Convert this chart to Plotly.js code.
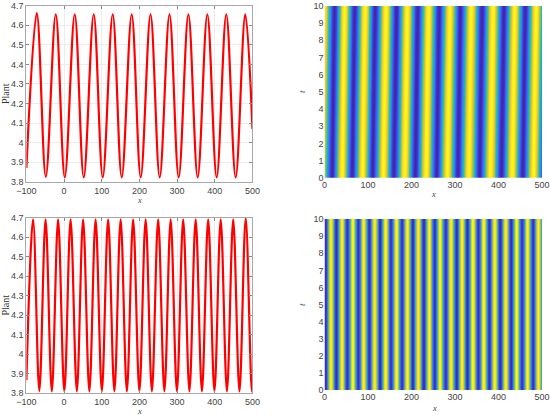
<!DOCTYPE html>
<html><head><meta charset="utf-8">
<script src="https://cdn.plot.ly/plotly-3.0.1.min.js"></script>
<style>html,body{margin:0;padding:0;background:#fff}#chart{width:550px;height:416px}</style>
</head><body><div id="chart"></div>
<script>
// ---- Top-left line: start, alternating peaks/troughs, end
const topLineX = [-100, -72.5, -48.5, -22.1, 1.8, 28.3, 52.2, 78.7, 102.6, 129.1, 153, 179.5, 203.4, 229.5, 253.8, 279.8, 304.2, 330, 354.6, 380.3, 405, 430.6, 455.4, 481, 500];
const topLineY = [3.87, 4.662, 3.825, 4.656, 3.822, 4.656, 3.822, 4.656, 3.822, 4.656, 3.822, 4.656, 3.822, 4.656, 3.822, 4.656, 3.822, 4.656, 3.822, 4.656, 3.822, 4.656, 3.822, 4.656, 4.07];

// ---- Bottom-left line
const botLineX = [-100, -82.3, -65.7, -49.1, -32.5, -15.9, 0.7, 17.3, 33.9, 50.5, 67.1, 83.7, 100.3, 116.9, 133.5, 150.1, 166.7, 183.3, 199.9, 216.5, 233.1, 249.7, 266.3, 282.9, 299.5, 316.1, 332.7, 349.3, 365.9, 382.5, 399.1, 415.7, 432.3, 448.9, 465.5, 482.1, 498.7, 500];
const botLineY = [3.865, 4.692, 3.81, 4.692, 3.808, 4.692, 3.808, 4.692, 3.808, 4.692, 3.808, 4.692, 3.808, 4.692, 3.808, 4.692, 3.808, 4.692, 3.808, 4.692, 3.808, 4.692, 3.808, 4.692, 3.808, 4.692, 3.808, 4.692, 3.808, 4.692, 3.808, 4.692, 3.808, 4.692, 3.808, 4.697, 3.808, 3.815];

// ---- Top-right map: stripe extrema at t=0 (peak, trough, ...) and drift over t=0..10
const topMapX = [-8, 17, 40, 63, 87, 110, 135, 159, 184, 208, 233, 257, 282, 306, 331, 356, 381, 406, 431, 455, 480, 505, 529];
const topMapV = [4.66, 3.82, 4.66, 3.82, 4.66, 3.82, 4.66, 3.82, 4.66, 3.82, 4.66, 3.82, 4.66, 3.82, 4.66, 3.82, 4.66, 3.82, 4.66, 3.82, 4.66, 3.82, 4.66];
const topMapDrift = 6;

// ---- Bottom-right map: stationary stripe extrema
const botMapX = [-11, 2, 14.5, 27.1, 39.6, 52.2, 64.7, 77.3, 89.8, 102.4, 114.9, 127.5, 140, 152.6, 165.1, 177.7, 190.2, 202.8, 215.3, 227.9, 240.4, 253, 265.5, 278.1, 290.6, 303.2, 315.7, 328.3, 340.8, 353.4, 365.9, 378.5, 391, 403.6, 416.1, 428.7, 441.2, 453.8, 466.3, 478.9, 491.4, 504, 517];
const botMapV = [4.69, 3.81, 4.69, 3.81, 4.69, 3.81, 4.69, 3.81, 4.69, 3.81, 4.69, 3.81, 4.69, 3.81, 4.69, 3.81, 4.69, 3.81, 4.69, 3.81, 4.69, 3.81, 4.69, 3.81, 4.69, 3.81, 4.69, 3.81, 4.69, 3.81, 4.69, 3.81, 4.69, 3.81, 4.69, 3.81, 4.69, 3.81, 4.69, 3.81, 4.69, 3.81, 4.69];

const xTicks = [-100, 0, 100, 200, 300, 400, 500];
const yTicksPlant = [3.8, 3.9, 4, 4.1, 4.2, 4.3, 4.4, 4.5, 4.6, 4.7];
const mapXTicks = [0, 100, 200, 300, 400, 500];
const mapTTicks = [0, 1, 2, 3, 4, 5, 6, 7, 8, 9, 10];

// grid sampling for the maps
const gridX = []; for (let x = 0; x <= 500; x += 1) gridX.push(x);
const gridT = []; for (let t = 0; t <= 10.0001; t += 0.25) gridT.push(+t.toFixed(2));

function profileAt(xs, vs, x) {
  let i = 0;
  while (i < xs.length - 2 && x > xs[i + 1]) i++;
  const f = Math.min(1, Math.max(0, (x - xs[i]) / (xs[i + 1] - xs[i])));
  return vs[i] + (vs[i + 1] - vs[i]) * (1 - Math.cos(Math.PI * f)) / 2;
}
const topZ = gridT.map(t => gridX.map(x => profileAt(topMapX, topMapV, x - topMapDrift * t / 10)));
const botZ = gridT.map(t => gridX.map(x => profileAt(botMapX, botMapV, x)));

// MATLAB parula colormap
const parula = [[0, '#3e26a8'], [0.111, '#4747eb'], [0.238, '#3875fe'], [0.365, '#23a0e5'], [0.492, '#0bbdbc'],
  [0.619, '#57cc7a'], [0.746, '#c5c22a'], [0.841, '#febd3c'], [0.905, '#f9d62d'], [1, '#f9fb15']];

const tickFont = {family: 'Liberation Sans, Arial, sans-serif', size: 9, color: '#444'};
const serif = 'Liberation Serif, DejaVu Serif, serif';

const traces = [
  {type: 'scatter', mode: 'lines', x: topLineX, y: topLineY, xaxis: 'x', yaxis: 'y',
   line: {color: '#ff0000', width: 2.2, shape: 'spline', smoothing: 1}, hoverinfo: 'skip'},
  {type: 'heatmap', x: gridX, y: gridT, z: topZ, xaxis: 'x2', yaxis: 'y2',
   colorscale: parula, showscale: false, zsmooth: 'best', hoverinfo: 'skip'},
  {type: 'scatter', mode: 'lines', x: botLineX, y: botLineY, xaxis: 'x3', yaxis: 'y3',
   line: {color: '#ff0000', width: 2.2, shape: 'spline', smoothing: 1}, hoverinfo: 'skip'},
  {type: 'heatmap', x: gridX, y: gridT, z: botZ, xaxis: 'x4', yaxis: 'y4',
   colorscale: parula, showscale: false, zsmooth: 'best', hoverinfo: 'skip'}
];

function lineX(domain, anchor) {
  return {domain: domain, anchor: anchor, range: [-100, 500], tickvals: xTicks, ticks: 'inside', ticklen: 3,
    tickcolor: '#888', showline: true, linecolor: '#a8a8a8', mirror: 'ticks', showgrid: true, gridcolor: '#ececec',
    zeroline: false, tickfont: tickFont};
}
function lineY(domain, anchor) {
  return {domain: domain, anchor: anchor, range: [3.8, 4.7], tickvals: yTicksPlant, ticks: 'inside', ticklen: 3,
    tickcolor: '#888', showline: true, linecolor: '#a8a8a8', mirror: 'ticks', showgrid: true, gridcolor: '#ececec',
    zeroline: false, tickfont: tickFont,
    title: {text: 'Plant', font: {family: serif, size: 10, color: '#333'}, standoff: 4}};
}
function mapX(domain, anchor) {
  return {domain: domain, anchor: anchor, range: [0, 500], tickvals: mapXTicks, ticks: '', showline: false,
    showgrid: false, zeroline: false, tickfont: tickFont};
}
function mapY(domain, anchor) {
  return {domain: domain, anchor: anchor, range: [0, 10], tickvals: mapTTicks, ticks: '', showline: false,
    showgrid: false, zeroline: false, tickfont: tickFont,
    title: {text: '<i>t</i>', font: {family: serif, size: 9, color: '#444'}, standoff: 6}};
}

function xLabel(px, py) {
  return {text: '<i>x</i>', xref: 'paper', yref: 'paper', x: px / 550, y: 1 - py / 416,
    xanchor: 'center', yanchor: 'middle', showarrow: false, font: {family: serif, size: 8.5, color: '#444'}};
}

const layout = {
  width: 550, height: 416, margin: {l: 0, r: 0, t: 0, b: 0},
  paper_bgcolor: '#fff', plot_bgcolor: '#fff', showlegend: false,
  xaxis: lineX([0.048, 0.459], 'y'),
  yaxis: lineY([0.5632, 0.9863], 'x'),
  xaxis2: mapX([0.59, 0.9855], 'y2'),
  yaxis2: mapY([0.5728, 0.9856], 'x2'),
  xaxis3: lineX([0.048, 0.459], 'y3'),
  yaxis3: lineY([0.0553, 0.4767], 'x3'),
  xaxis4: mapX([0.59, 0.9855], 'y4'),
  yaxis4: mapY([0.0618, 0.4736], 'x4'),
  annotations: [xLabel(139.5, 200), xLabel(433.3, 194), xLabel(139.5, 410.5), xLabel(434, 407.5)]
};

Plotly.newPlot('chart', traces, layout, {staticPlot: true, displayModeBar: false});
</script>
</body></html>
